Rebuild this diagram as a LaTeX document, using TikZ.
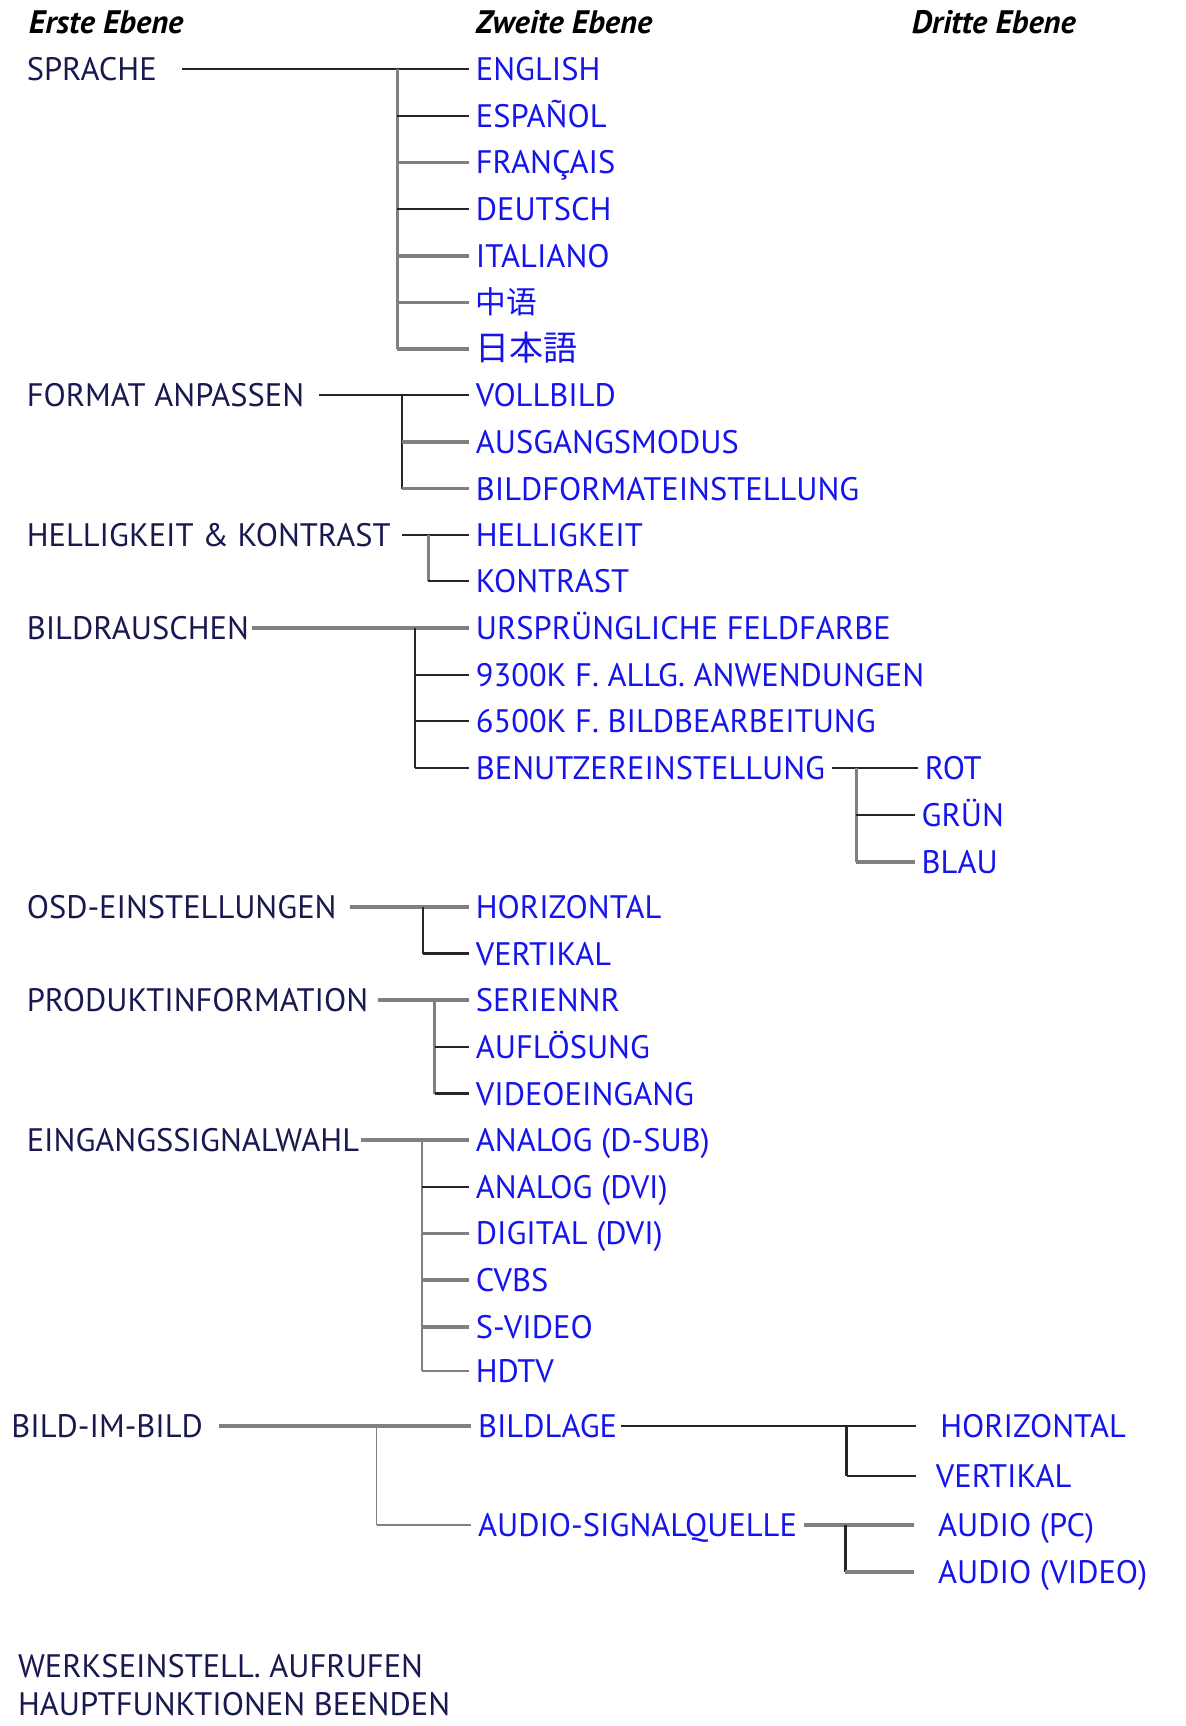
\documentclass[tikz,border=0pt]{standalone}
\usepackage{fontspec}
\setmainfont{PT Sans}
\newfontfamily\cjksc{Noto Sans CJK SC}
\newfontfamily\cjkjp{Noto Sans CJK JP}
\definecolor{menublue}{RGB}{20,20,235}
\definecolor{menunavy}{RGB}{25,25,80}
\tikzset{
    ebene/.style={anchor=west,inner xsep=3pt,inner ysep=0pt,text height=10.4pt,text depth=0pt,
        font=\fontsize{14.8}{16}\selectfont},
    first/.style={ebene,text=menunavy},
    second/.style={ebene,text=menublue},
    head/.style={ebene,font=\fontsize{14.8}{16}\selectfont\bfseries\itshape},
    dk/.style={draw=black!85,line width=1pt},
    gr/.style={draw=black!50,line width=1.7pt}
}
\begin{document}
\begin{tikzpicture}[x=0.5pt,y=-0.5pt]
    \useasboundingbox (0,0) rectangle (1080,1572);

    \node [head] (erste) at (20,20) {Erste Ebene};
    \node [head] (zweite) at (427,20) {Zweite Ebene};
    \node [head] (dritte) at (824,20) {Dritte Ebene};

    \node [first] (sprache) at (18,63) {SPRACHE};
    \node [second] (english) at (427,63) {ENGLISH};
    \node [second] (espanol) at (427,105.5) {ESPAÑOL};
    \node [second] (francais) at (427,148) {FRANÇAIS};
    \node [second] (deutsch) at (427,190.5) {DEUTSCH};
    \node [second] (italiano) at (427,233) {ITALIANO};
    \node [second] (chinesisch) at (427,275.5) {\cjksc\fontsize{14}{14}\selectfont 中语};
    \node [second] (japanisch) at (427,318) {\cjkjp\fontsize{15.5}{15.5}\selectfont 日本語};

    \node [first] (format) at (18,360) {FORMAT ANPASSEN};
    \node [second] (vollbild) at (427,360) {VOLLBILD};
    \node [second] (ausgang) at (427,402.5) {AUSGANGSMODUS};
    \node [second] (bildformat) at (427,445) {BILDFORMATEINSTELLUNG};

    \node [first] (hellkon) at (18,487) {HELLIGKEIT \& KONTRAST};
    \node [second] (hell) at (427,487) {HELLIGKEIT};
    \node [second] (kontrast) at (427,529.5) {KONTRAST};

    \node [first] (rauschen) at (18,572) {BILDRAUSCHEN};
    \node [second] (ursprung) at (427,572) {URSPRÜNGLICHE FELDFARBE};
    \node [second] (k9300) at (427,614.5) {9300K F. ALLG. ANWENDUNGEN};
    \node [second] (k6500) at (427,657) {6500K F. BILDBEARBEITUNG};
    \node [second] (benutzer) at (427,699.5) {BENUTZEREINSTELLUNG};
    \node [second] (rot) at (836,699.5) {ROT};
    \node [second] (gruen) at (833,742) {GRÜN};
    \node [second] (blau) at (833,785) {BLAU};

    \node [first] (osd) at (18,826) {OSD-EINSTELLUNGEN};
    \node [second] (osdh) at (427,826) {HORIZONTAL};
    \node [second] (osdv) at (427,868.5) {VERTIKAL};

    \node [first] (produkt) at (18,911) {PRODUKTINFORMATION};
    \node [second] (serien) at (427,911) {SERIENNR};
    \node [second] (aufl) at (427,953.5) {AUFLÖSUNG};
    \node [second] (videoein) at (427,996) {VIDEOEINGANG};

    \node [first] (eingang) at (18,1038.5) {EINGANGSSIGNALWAHL};
    \node [second] (dsub) at (427,1038.5) {ANALOG (D-SUB)};
    \node [second] (advi) at (427,1081) {ANALOG (DVI)};
    \node [second] (ddvi) at (427,1123.5) {DIGITAL (DVI)};
    \node [second] (cvbs) at (427,1166) {CVBS};
    \node [second] (svideo) at (427,1208.5) {S-VIDEO};
    \node [second] (hdtv) at (427,1249) {HDTV};

    \node [first] (pip) at (4,1299) {BILD-IM-BILD};
    \node [second] (bildlage) at (429,1299) {BILDLAGE};
    \node [second] (audiosig) at (429,1389) {AUDIO-SIGNALQUELLE};
    \node [second,inner xsep=11pt] (piph) at (834,1299) {HORIZONTAL};
    \node [second,inner xsep=9pt] (pipv) at (834,1344) {VERTIKAL};
    \node [second,inner xsep=11pt] (audiopc) at (832,1389) {AUDIO (PC)};
    \node [second,inner xsep=11pt] (audiovideo) at (832,1432) {AUDIO (VIDEO)};

    \node [first] (werks) at (10,1517) {WERKSEINSTELL. AUFRUFEN};
    \node [first] (beenden) at (10,1552) {HAUPTFUNKTIONEN BEENDEN};

    \coordinate (sbus) at (362,63);
    \coordinate (fbus) at (366,360);
    \coordinate (hbus) at (390,487);
    \coordinate (rbus) at (378,572);
    \coordinate (bbus) at (780,699.5);
    \coordinate (obus) at (385,826);
    \coordinate (pbus) at (396,911);
    \coordinate (ebus) at (384,1038.5);
    \coordinate (ibus) at (343,1299);
    \coordinate (lbus) at (771,1299);
    \coordinate (abus) at (770,1389);

    \draw [dk,shorten <=8.5pt] (sprache.east) -- (english.west);
    \draw [gr,line width=1.2pt] (sbus) -- (sbus |- japanisch.west);
    \draw [dk] (sbus |- espanol.west) -- (espanol.west);
    \draw [gr] (sbus |- francais.west) -- (francais.west);
    \draw [dk] (sbus |- deutsch.west) -- (deutsch.west);
    \draw [gr] (sbus |- italiano.west) -- (italiano.west);
    \draw [gr] (sbus |- chinesisch.west) -- (chinesisch.west);
    \draw [gr] (sbus |- japanisch.west) -- (japanisch.west);

    \draw [dk,shorten <=3.5pt] (format.east) -- (vollbild.west);
    \draw [dk] (fbus) -- (fbus |- bildformat.west);
    \draw [gr] (fbus |- ausgang.west) -- (ausgang.west);
    \draw [gr] (fbus |- bildformat.west) -- (bildformat.west);

    \draw [dk,shorten <=2pt] (hellkon.east) -- (hell.west);
    \draw [gr,line width=1.2pt] (hbus) -- (hbus |- kontrast.west);
    \draw [dk] (hbus |- kontrast.west) -- (kontrast.west);

    \draw [gr,shorten <=-2pt] (rauschen.east) -- (ursprung.west);
    \draw [dk] (rbus) -- (rbus |- benutzer.west);
    \draw [dk] (rbus |- k9300.west) -- (k9300.west);
    \draw [dk] (rbus |- k6500.west) -- (k6500.west);
    \draw [dk] (rbus |- benutzer.west) -- (benutzer.west);

    \draw [dk] (benutzer.east) -- (rot.west);
    \draw [gr,line width=1.2pt] (bbus) -- (bbus |- blau.west);
    \draw [dk] (bbus |- gruen.west) -- (gruen.west);
    \draw [gr] (bbus |- blau.west) -- (blau.west);

    \draw [gr,shorten <=3pt] (osd.east) -- (osdh.west);
    \draw [dk] (obus) -- (obus |- osdv.west);
    \draw [dk] (obus |- osdv.west) -- (osdv.west);

    \draw [gr,shorten <=1.5pt] (produkt.east) -- (serien.west);
    \draw [gr,line width=1.2pt] (pbus) -- (pbus |- videoein.west);
    \draw [dk] (pbus |- aufl.west) -- (aufl.west);
    \draw [dk] (pbus |- videoein.west) -- (videoein.west);

    \draw [gr,shorten <=-2.5pt] (eingang.east) -- (dsub.west);
    \draw [gr,line width=1pt] (ebus) -- (ebus |- hdtv.west);
    \draw [dk] (ebus |- advi.west) -- (advi.west);
    \draw [gr] (ebus |- ddvi.west) -- (ddvi.west);
    \draw [gr] (ebus |- cvbs.west) -- (cvbs.west);
    \draw [gr] (ebus |- svideo.west) -- (svideo.west);
    \draw [gr,line width=1pt] (ebus |- hdtv.west) -- (hdtv.west);

    \draw [gr,line width=2pt,shorten <=4pt] (pip.east) -- (bildlage.west);
    \draw [gr,line width=0.8pt] (ibus) -- (ibus |- audiosig.west);
    \draw [gr,line width=0.8pt] (ibus |- audiosig.west) -- (audiosig.west);

    \draw [dk,shorten <=-1.5pt] (bildlage.east) -- (piph.west);
    \draw [dk] (lbus) -- (lbus |- pipv.west);
    \draw [dk] (lbus |- pipv.west) -- (pipv.west);

    \draw [gr,line width=2pt] (audiosig.east) -- (audiopc.west);
    \draw [dk] (abus) -- (abus |- audiovideo.west);
    \draw [gr,line width=2pt] (abus |- audiovideo.west) -- (audiovideo.west);
\end{tikzpicture}
\end{document}
